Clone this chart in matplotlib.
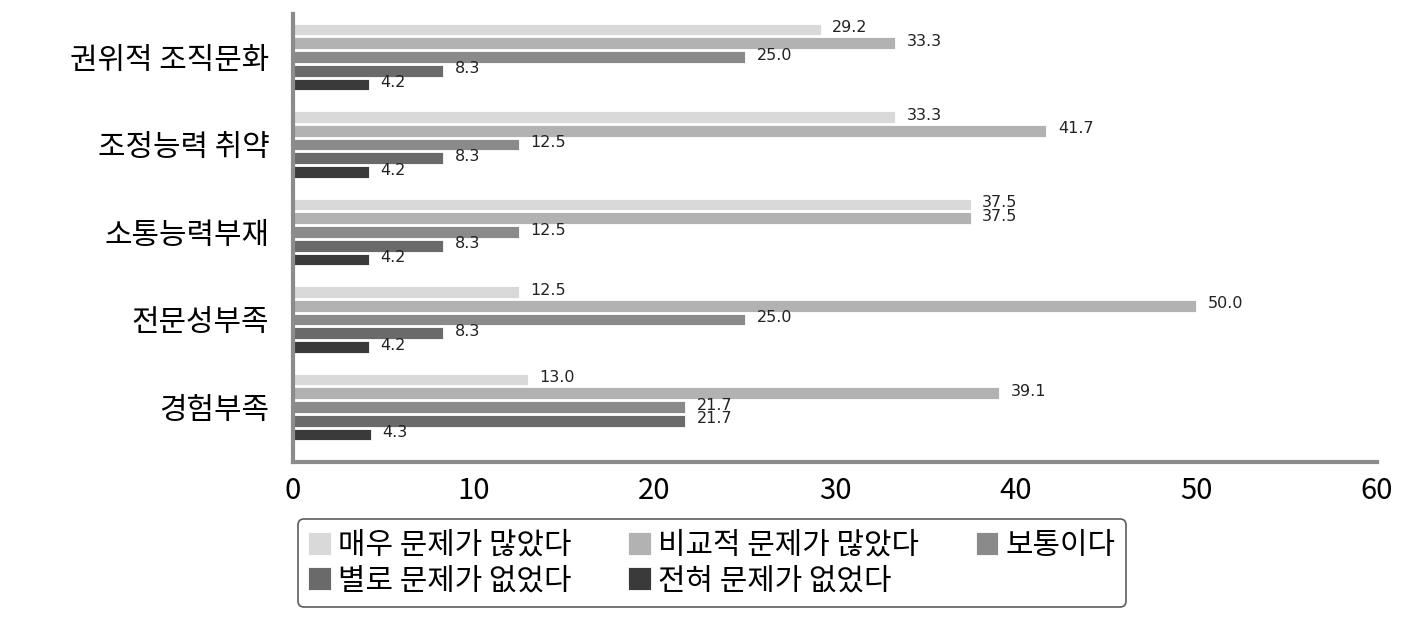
import matplotlib.pyplot as plt
import numpy as np

plt.rcParams['font.family'] = ['Noto Sans CJK KR', 'DejaVu Sans']

categories = ["권위적 조직문화", "조정능력 취약", "소통능력부재", "전문성부족", "경험부족"]
series_names = ["매우 문제가 많았다", "비교적 문제가 많았다", "보통이다", "별로 문제가 없었다", "전혀 문제가 없었다"]
very_many = [29.2, 33.3, 37.5, 12.5, 13.0]
rather_many = [33.3, 41.7, 37.5, 50.0, 39.1]
average = [25.0, 12.5, 12.5, 25.0, 21.7]
rarely = [8.3, 8.3, 8.3, 8.3, 21.7]
never = [4.2, 4.2, 4.2, 4.2, 4.3]
colors = ["#d9d9d9", "#b2b2b2", "#8a8a8a", "#6a6a6a", "#3a3a3a"]

series = [very_many, rather_many, average, rarely, never]

fig = plt.figure(figsize=(14.17, 6.26), dpi=100)
ax = fig.add_axes([293/1417, 1-462/626, (1377-293)/1417, (462-14)/626])

y = np.arange(len(categories))
step = 0.157
bars = []
for k, (vals, col) in enumerate(zip(series, colors)):
    yy = y + (k-2)*step
    b = ax.barh(yy, vals, height=0.135, color=col, edgecolor="white", linewidth=0.6, label=series_names[k])
    bars.append(b)
    for yi, v in zip(yy, vals):
        ax.text(v+0.65, yi-0.02, f"{v:.1f}", va="center", ha="left", fontsize=11.5,
                family="DejaVu Sans", color="#222222")

ax.set_xlim(0, 60)
ax.set_ylim(4.629, -0.491)
ax.set_xticks(range(0, 61, 10))
ax.set_yticks(y)
ax.set_yticklabels(categories, fontsize=21.5)
ax.tick_params(axis="x", length=0, pad=10, labelsize=21)
ax.tick_params(axis="y", length=0, pad=17)
for s in ["top", "right"]:
    ax.spines[s].set_visible(False)
for s in ["left", "bottom"]:
    ax.spines[s].set_color("#8c8c8c")
    ax.spines[s].set_linewidth(3)

order = [0, 3, 1, 4, 2]
leg = fig.legend([bars[i] for i in order], [series_names[i] for i in order], ncol=3,
                 loc="center", bbox_to_anchor=(712/1417, 1-563/626), fontsize=21.5,
                 frameon=True, fancybox=True, edgecolor="#333333", handlelength=0.75,
                 handleheight=0.8, handletextpad=0.25, columnspacing=1.9, labelspacing=0.15,
                 borderpad=0.35)
leg.get_frame().set_linewidth(1.2)

fig.savefig("out.png", dpi=100)
